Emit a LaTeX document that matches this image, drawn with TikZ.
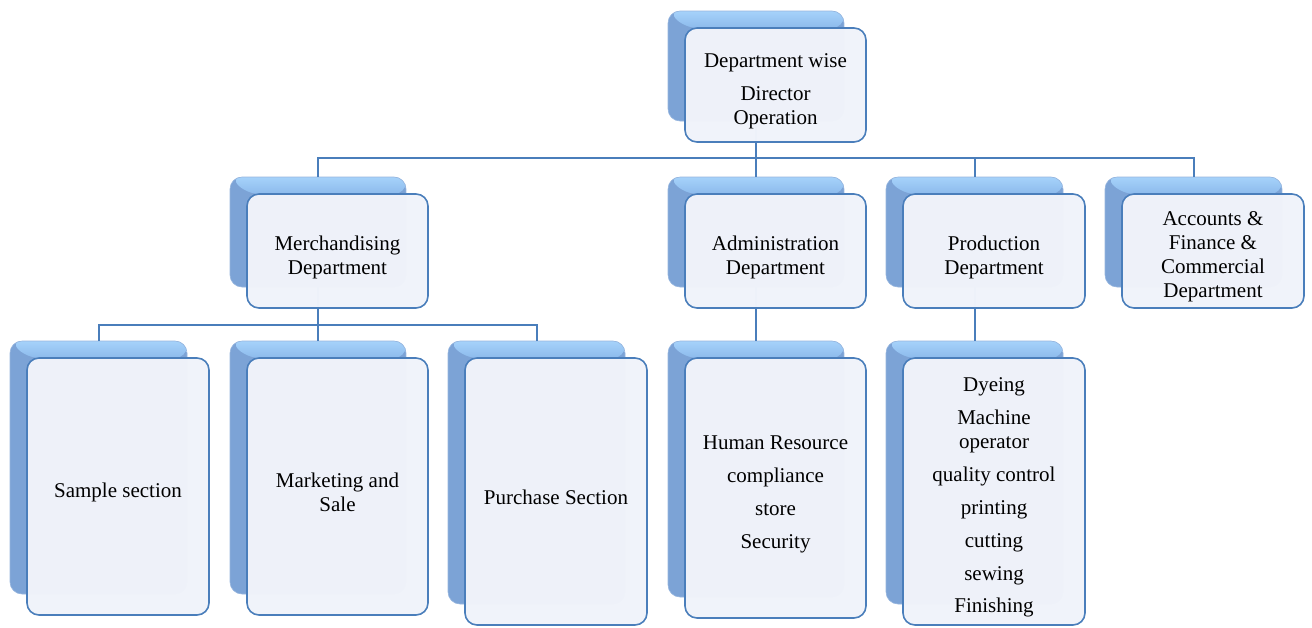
\documentclass[tikz,border=0pt]{standalone}
\usepackage{fontspec}
\setmainfont{Liberation Serif}
\usetikzlibrary{calc}
\definecolor{lineblue}{RGB}{74,126,187}
\definecolor{frontfill}{RGB}{240,243,250}
\definecolor{bgtopA}{RGB}{166,210,250}
\definecolor{bgtopB}{RGB}{140,186,236}
\definecolor{bgleft}{RGB}{124,163,214}
\pgfdeclarelayer{back}
\pgfdeclarelayer{conn}
\pgfsetlayers{back,conn,main}
\tikzset{
  bgbox/.style={rectangle, rounded corners=12pt, inner sep=0pt, draw=bgleft!80, line width=0.6pt,
    path picture={
      \fill[bgleft] (path picture bounding box.south west) rectangle (path picture bounding box.north east);
      \shade[top color=bgtopA, bottom color=bgtopB] (path picture bounding box.north west) -- ++(17,17) -| (path picture bounding box.north east) -- cycle;
    }},
  frontbox/.style={rectangle, rounded corners=12pt, inner sep=0pt, draw=lineblue, line width=1.6pt,
    fill=frontfill, fill opacity=0.985, draw opacity=1},
  boxtext/.style={align=center, text opacity=1, fill opacity=1, font=\fontsize{21}{24}\selectfont, yshift=-6pt},
  conn/.style={draw=lineblue, line width=2pt},
}
% #1 name, #2 x1, #3 y1, #4 x2, #5 y2, #6 text
\newcommand\orgbox[6]{%
  \begin{pgfonlayer}{back}
    \node[bgbox, minimum width={#4-#2-5}, minimum height={#5-#3-4}] (#1-bg) at ({(#2+#4)/2-19.5},{(#3+#5)/2-19}) {};
  \end{pgfonlayer}
  \node[frontbox, minimum width={#4-#2}, minimum height={#5-#3},
        label={[boxtext, name=#1-text]center:{#6}}] (#1) at ({(#2+#4)/2},{(#3+#5)/2}) {};
}
\begin{document}
\begin{tikzpicture}[x=1pt,y=-1pt]
\useasboundingbox (0,0) rectangle (1312,627);
\orgbox{top}{685}{28}{866}{142}{Department wise\\[9pt]Director\\Operation}
\orgbox{merch}{247}{194}{428}{308}{Merchandising\\Department}
\orgbox{admin}{685}{194}{866}{308}{Administration\\Department}
\orgbox{prod}{903}{194}{1085}{308}{Production\\Department}
\orgbox{acc}{1122}{194}{1304}{308}{Accounts \&\\Finance \&\\Commercial\\Department}
\orgbox{sample}{27}{358}{209}{615}{Sample section}
\orgbox{market}{247}{358}{428}{615}{Marketing and\\Sale}
\orgbox{purch}{465}{358}{647}{625}{Purchase Section}
\orgbox{adsub}{685}{358}{866}{618}{Human Resource\\[9pt]compliance\\[9pt]store\\[9pt]Security}
\orgbox{prsub}{903}{358}{1085}{625}{Dyeing\\[9pt]Machine\\operator\\[9pt]quality control\\[9pt]printing\\[9pt]cutting\\[9pt]sewing\\[8pt]Finishing}
\coordinate (bus1) at (0,158);
\coordinate (bus2) at (0,325);
\begin{pgfonlayer}{conn}
\draw[conn] (top-bg.south) -- (top-bg.south |- bus1) -| (merch-bg.north);
\draw[conn] (top-bg.south) -- (top-bg.south |- bus1) -| (admin-bg.north);
\draw[conn] (top-bg.south) -- (top-bg.south |- bus1) -| (prod-bg.north);
\draw[conn] (top-bg.south) -- (top-bg.south |- bus1) -| (acc-bg.north);
\draw[conn] (merch-bg.south) -- (merch-bg.south |- bus2) -| (sample-bg.north);
\draw[conn] (merch-bg.south) -- (merch-bg.south |- bus2) -| (market-bg.north);
\draw[conn] (merch-bg.south) -- (merch-bg.south |- bus2) -| (purch-bg.north);
\draw[conn] (admin-bg.south) -- (adsub-bg.north);
\draw[conn] (prod-bg.south) -- (prsub-bg.north);
\end{pgfonlayer}
\end{tikzpicture}
\end{document}
